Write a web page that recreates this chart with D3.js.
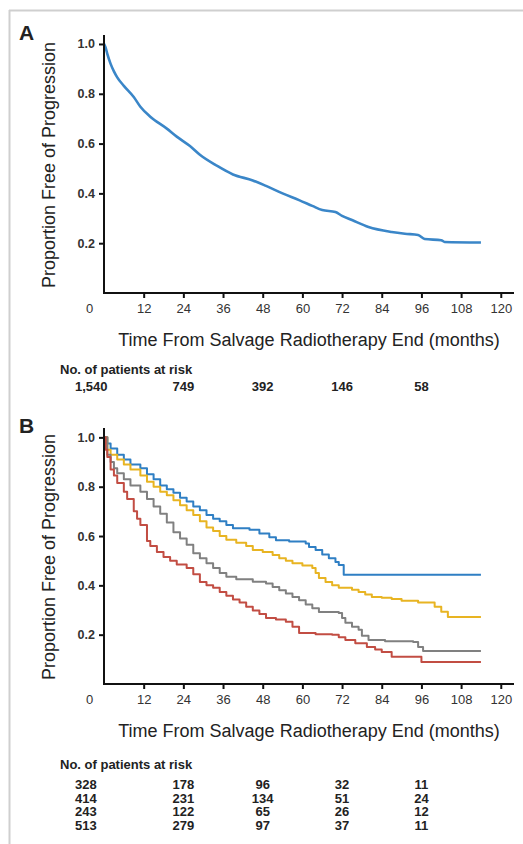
<!DOCTYPE html>
<html><head><meta charset="utf-8">
<script src="https://cdn.jsdelivr.net/npm/d3@7"></script>
<style>
html,body{margin:0;padding:0;background:#fff;}
svg{display:block;font-family:"Liberation Sans",Arial,sans-serif;}
</style></head>
<body><svg id="c" width="523" height="844"></svg>
<script>
// ---------- data ----------
const xTickMonths = [0, 12, 24, 36, 48, 60, 72, 84, 96, 108, 120];
const yTickValues = [0.2, 0.4, 0.6, 0.8, 1.0];
const atRiskMonths = [0, 24, 48, 72, 96];
const atRiskA = ["1,540", "749", "392", "146", "58"];
const atRiskB1 = ["328", "178", "96", "32", "11"];
const atRiskB2 = ["414", "231", "134", "51", "24"];
const atRiskB3 = ["243", "122", "65", "26", "12"];
const atRiskB4 = ["513", "279", "97", "37", "11"];

// Panel A: overall progression-free proportion [month, proportion]
const pfsAll = [[0,1.0],[0.5,0.985],[1,0.96],[2,0.92],[3,0.89],[4,0.866],[6,0.832],[9,0.787],[11,0.748],[14,0.708],[19,0.66],[22,0.628],[26,0.59],[29,0.555],[34,0.512],[39,0.476],[45,0.452],[49,0.43],[54,0.40],[59,0.373],[63,0.35],[66,0.333],[70,0.325],[72,0.31],[75,0.293],[80,0.265],[87,0.245],[91,0.238],[95,0.233],[97,0.217],[102,0.212],[103,0.205],[114,0.203]];

// Panel B: four groups
const pfsBlue = [[0,1.0],[1,0.975],[2,0.955],[4,0.93],[6,0.91],[8,0.89],[11,0.875],[13,0.85],[15,0.83],[17,0.805],[19,0.79],[21,0.775],[23,0.755],[25,0.74],[27,0.72],[29,0.705],[31,0.685],[33,0.67],[35,0.66],[37,0.645],[39,0.632],[44,0.625],[47,0.61],[50,0.595],[52,0.583],[56,0.578],[61,0.57],[62,0.555],[64,0.543],[66,0.525],[68,0.51],[70,0.495],[71,0.483],[72.5,0.443],[114,0.443]];
const pfsYellow = [[0,1.0],[1,0.95],[2,0.93],[4,0.91],[6,0.89],[8,0.87],[11,0.845],[13,0.82],[15,0.80],[17,0.78],[19,0.765],[21,0.745],[23,0.725],[25,0.705],[27,0.685],[29,0.66],[31,0.635],[33,0.62],[35,0.60],[37,0.585],[40,0.573],[43,0.56],[45,0.543],[48,0.535],[51,0.523],[53,0.51],[55,0.50],[57,0.49],[60,0.48],[63,0.47],[64,0.45],[65,0.43],[67,0.414],[69,0.40],[71,0.39],[75,0.382],[77,0.373],[79,0.363],[81,0.353],[84,0.35],[87,0.345],[90,0.338],[95,0.33],[100,0.313],[102,0.293],[104,0.272],[114,0.272]];
const pfsGray = [[0,1.0],[1,0.93],[2,0.90],[3,0.875],[4,0.855],[6,0.83],[8,0.805],[11,0.78],[13,0.75],[15,0.72],[17,0.69],[19,0.655],[21,0.615],[23,0.59],[25,0.565],[27,0.53],[29,0.51],[31,0.49],[33,0.47],[35,0.45],[37,0.435],[40,0.425],[45,0.415],[49,0.408],[51,0.393],[53,0.38],[55,0.367],[57,0.353],[59,0.34],[61,0.322],[63,0.307],[65,0.292],[71,0.288],[72,0.268],[73,0.248],[75,0.232],[77,0.22],[78,0.196],[80,0.178],[85,0.173],[93.5,0.17],[95,0.15],[96.5,0.134],[114,0.134]];
const pfsRed = [[0,1.0],[0.5,0.95],[1,0.92],[2,0.87],[3,0.845],[4,0.815],[6,0.78],[7,0.75],[9,0.70],[10,0.67],[11,0.645],[13,0.58],[14,0.56],[16,0.535],[18,0.515],[20,0.50],[22,0.485],[25,0.47],[27,0.445],[29,0.414],[31,0.40],[33,0.39],[35,0.373],[37,0.358],[39,0.343],[41,0.33],[43,0.313],[45,0.298],[47,0.284],[49,0.268],[52,0.262],[55,0.252],[57,0.232],[59,0.207],[64,0.202],[69,0.20],[71,0.19],[73,0.178],[76,0.165],[79.5,0.15],[82,0.14],[84,0.13],[87,0.11],[95,0.11],[96,0.089],[114,0.089]];

const groupColors = ["#2f7fc4", "#e8b422", "#808080", "#c24d43"];

// ---------- drawing ----------
const svg = d3.select("#c");
// frame
svg.append("line").attr("x1",9).attr("x2",523).attr("y1",10.5).attr("y2",10.5).attr("stroke","#cfcfcf").attr("stroke-width",2);
svg.append("line").attr("x1",9.5).attr("x2",9.5).attr("y1",10).attr("y2",844).attr("stroke","#cfcfcf").attr("stroke-width",2);

const x = d3.scaleLinear().domain([0, 124]).range([104, 514]);

function panel(letter, letterY, yTop, yBottom, yMaxDomain, series, colors, widths, curveType, riskRows, riskLabelY, riskRowY) {
  const y = d3.scaleLinear().domain([0, yMaxDomain]).range([yBottom, yTop]);
  const g = svg.append("g");

  g.append("text").attr("x", 19).attr("y", letterY).attr("font-size", 21).attr("font-weight", "bold")
    .attr("fill", "#222").text(letter);

  series.forEach((s, i) => {
    const line = d3.line().x(d => x(d[0])).y(d => y(d[1])).curve(curveType);
    g.append("path").datum(s).attr("d", line).attr("fill", "none")
      .attr("stroke", colors[i]).attr("stroke-width", widths[i]).attr("stroke-linejoin", "round");
  });

  const ya = g.append("g").attr("transform", `translate(${x(0)},0)`)
    .call(d3.axisLeft(y).tickValues(yTickValues).tickFormat(d3.format(".1f")).tickSize(5).tickPadding(4));
  ya.select(".domain").attr("stroke", "#111").attr("stroke-width", 2).attr("d", `M0,${y(0)}V${y(yMaxDomain)}`);
  ya.selectAll(".tick line").attr("stroke", "#111").attr("stroke-width", 2);
  ya.selectAll(".tick text").attr("font-size", 12.5).attr("font-weight", "bold").attr("fill", "#333")
    .attr("font-family", "'Liberation Sans', Arial, sans-serif");

  const xa = g.append("g").attr("transform", `translate(0,${y(0)})`)
    .call(d3.axisBottom(x).tickValues(xTickMonths).tickSize(5).tickPadding(6));
  xa.select(".domain").attr("stroke", "#111").attr("stroke-width", 2).attr("d", `M${x(0)-1},0H${x(124)}`);
  xa.selectAll(".tick line").attr("stroke", "#111").attr("stroke-width", 2);
  xa.selectAll(".tick").filter(d => d === 0).select("line").remove();
  xa.selectAll(".tick").filter(d => d === 0).select("text").attr("x", -15);
  xa.selectAll(".tick text").attr("font-size", 13).attr("fill", "#333").attr("dy", "0.71em")
    .attr("font-family", "'Liberation Sans', Arial, sans-serif");

  g.append("text").attr("x", (x(0) + x(124)) / 2).attr("y", y(0) + 53).attr("text-anchor", "middle")
    .attr("font-size", 18).attr("fill", "#222").text("Time From Salvage Radiotherapy End (months)");
  const cy = (y(0) + y(yMaxDomain)) / 2 + 1;
  g.append("text").attr("transform", `translate(55,${cy}) rotate(-90)`).attr("text-anchor", "middle")
    .attr("font-size", 18).attr("fill", "#222").text("Proportion Free of Progression");

  g.append("text").attr("x", 60).attr("y", riskLabelY).attr("font-size", 13).attr("font-weight", "bold")
    .attr("fill", "#222").text("No. of patients at risk");
  riskRows.forEach((row, r) => {
    row.forEach((v, c) => {
      const first = c === 0;
      g.append("text").attr("x", first ? 75 : x(atRiskMonths[c])).attr("y", riskRowY + r * 13.7)
        .attr("text-anchor", first ? "start" : "middle").attr("font-size", 13).attr("font-weight", "bold")
        .attr("fill", "#222").text(v);
    });
  });
}

panel("A", 40, 35, 293, 1.036, [pfsAll], ["#3a86c8"], [2.6], d3.curveMonotoneX, [atRiskA], 374, 391);
panel("B", 433, 428, 684, 1.038, [pfsBlue, pfsYellow, pfsGray, pfsRed], groupColors, [2, 2, 2, 2], d3.curveStepAfter,
  [atRiskB1, atRiskB2, atRiskB3, atRiskB4], 769, 789);
</script></body></html>
